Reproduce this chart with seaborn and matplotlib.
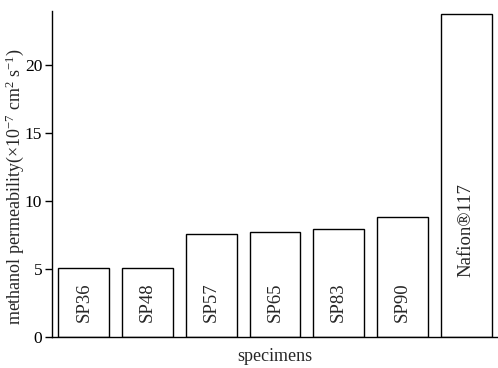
import matplotlib
matplotlib.use("Agg")
import matplotlib.pyplot as plt
import seaborn as sns
import pandas as pd

specimens = ["SP36", "SP48", "SP57", "SP65", "SP83", "SP90", "Nafion®117"]
permeability = [5.05, 5.1, 7.6, 7.75, 7.95, 8.8, 23.8]
yticks = [0, 5, 10, 15, 20]

sns.set_style("ticks")
plt.rcParams["font.family"] = ["Liberation Serif", "DejaVu Serif"]
plt.rcParams["mathtext.fontset"] = "custom"
plt.rcParams["mathtext.rm"] = "Liberation Serif"
plt.rcParams["mathtext.it"] = "Liberation Serif:italic"

df = pd.DataFrame({"specimen": specimens, "perm": permeability})

fig = plt.figure(figsize=(4.98, 3.68), dpi=100)
ax = fig.add_axes([52/498, 31/368, 446/498, 326/368])
sns.barplot(data=df, x="specimen", y="perm", color="white", edgecolor="black",
            linewidth=1.0, width=0.8, saturation=1, ax=ax)

for i, (name, val) in enumerate(zip(specimens, permeability)):
    ybase = 4.4 if name.startswith("Nafion") else 1.1
    ax.text(i, ybase, name, rotation=90, ha="center", va="bottom", fontsize=13.5)

ax.set_xlim(-0.5, len(specimens) - 0.5)
ax.set_ylim(0, 24)
ax.set_yticks(yticks)
ax.set_xticks([])
ax.tick_params(axis="y", direction="out", length=5, width=1, labelsize=12.5, pad=2, colors="black")
for s in ["top", "right"]:
    ax.spines[s].set_visible(False)
for s in ["left", "bottom"]:
    ax.spines[s].set_linewidth(1.0)
    ax.spines[s].set_color("black")
ax.set_xlabel("specimens", fontsize=13, labelpad=8)
ax.set_ylabel(r"methanol permeability($\times$10$^{-7}$ cm$^{2}$ s$^{-1}$)", fontsize=13,
              va="center")
ax.yaxis.set_label_coords(-0.084, 0.46)

fig.savefig("out.png", dpi=100)
